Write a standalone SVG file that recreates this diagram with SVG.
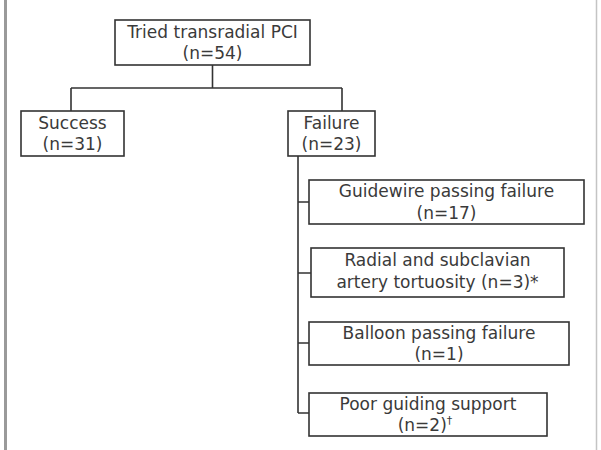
<svg xmlns="http://www.w3.org/2000/svg" width="601" height="450" viewBox="0 0 601 450">
<style>
.box{fill:#fff;stroke:#333;stroke-width:1.6}
.t{font-family:"DejaVu Sans","Liberation Sans",sans-serif;font-size:17px;fill:#3a3a3a;text-anchor:middle}
.c{fill:none;stroke:#333;stroke-width:1.6}
</style>
<rect x="0" y="0" width="601" height="450" fill="#fff"/>
<rect x="4" y="0" width="3" height="450" fill="#9a9a9a"/>
<line x1="596.5" y1="0" x2="596.5" y2="450" stroke="#c4c4c4" stroke-width="1.5"/>
<g id="connectors">
<path class="c" d="M212.5,65 V88 M71,88 H342 M71,88 V111 M342,88 V111"/>
<path class="c" d="M298,156 V413 M298,202 H309 M298,273 H311 M298,343 H309 M298,413 H309"/>
</g>
<g id="n-root">
<rect class="box" x="115" y="20" width="195" height="45"/>
<text class="t" x="212.5" y="38">Tried transradial PCI</text>
<text class="t" x="212.5" y="59">(n=54)</text>
</g>
<g id="n-success">
<rect class="box" x="21" y="111" width="103" height="45"/>
<text class="t" x="72.5" y="129">Success</text>
<text class="t" x="72.5" y="150">(n=31)</text>
</g>
<g id="n-failure">
<rect class="box" x="288" y="111" width="87" height="45"/>
<text class="t" x="331.5" y="129">Failure</text>
<text class="t" x="331.5" y="150">(n=23)</text>
</g>
<g id="n-guidewire">
<rect class="box" x="309" y="180" width="275" height="44"/>
<text class="t" x="446.5" y="197">Guidewire passing failure</text>
<text class="t" x="446.5" y="219">(n=17)</text>
</g>
<g id="n-radial">
<rect class="box" x="311" y="248" width="253" height="49"/>
<text class="t" x="437.5" y="266">Radial and subclavian</text>
<text class="t" x="437.5" y="288">artery tortuosity (n=3)*</text>
</g>
<g id="n-balloon">
<rect class="box" x="309" y="322" width="260" height="43"/>
<text class="t" x="439" y="339">Balloon passing failure</text>
<text class="t" x="439" y="360">(n=1)</text>
</g>
<g id="n-poor">
<rect class="box" x="309" y="393" width="238" height="43"/>
<text class="t" x="428" y="410">Poor guiding support</text>
<text class="t" x="425" y="431">(n=2)<tspan font-size="11" dy="-7">†</tspan></text>
</g>
</svg>
